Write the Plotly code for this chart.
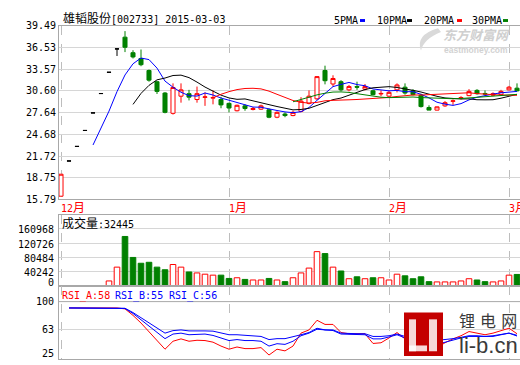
import numpy as np
import pandas as pd
import plotly.graph_objects as go

# ---------------- data ----------------
stock_name = "雄韬股份"
stock_code = "002733"
date_str = "2015-03-03"

dates = (
    ["2014-12-%02d" % d for d in [3, 4, 5, 8, 9, 10, 11, 12, 15, 16, 17, 18, 19, 22, 23, 24, 25, 26, 29, 30, 31]]
    + ["2015-01-%02d" % d for d in [5, 6, 7, 8, 9, 12, 13, 14, 15, 16, 19, 20, 21, 22, 23, 26, 27, 28, 29, 30]]
    + ["2015-02-%02d" % d for d in [2, 3, 4, 5, 6, 9, 10, 11, 12, 13, 16, 17, 25, 26, 27]]
    + ["2015-03-%02d" % d for d in [2, 3]]
)

opens = [15.79, 20.85, 22.94, 25.23, 27.75, 30.53, 33.58, 36.94, 38.62, 36.39,
         35.56, 33.84, 32.23, 30.60, 27.69, 30.15, 30.51, 29.67, 29.98, 29.87,
         29.67, 29.12, 28.06, 28.76, 28.24, 28.29, 28.20, 27.13, 27.59, 27.37,
         27.97, 29.12, 29.77, 33.84, 31.90, 32.23, 31.06, 31.53, 31.16, 30.92,
         30.47, 30.15, 31.06, 31.44, 30.92, 30.29, 28.52, 28.15, 28.76, 29.41,
         29.87, 30.23, 30.98, 30.54, 30.29, 30.37, 31.06, 31.30]
closes = [18.95, 20.85, 22.94, 25.23, 27.75, 30.53, 33.58, 36.94, 37.17, 35.78,
          34.67, 32.45, 30.84, 27.83, 31.40, 31.06, 30.01, 30.51, 30.05, 29.95,
          28.90, 28.45, 28.84, 28.38, 28.38, 28.76, 27.13, 27.83, 27.37, 27.83,
          29.45, 30.15, 32.96, 32.37, 32.69, 31.06, 31.53, 31.44, 31.53, 30.37,
          30.54, 30.70, 31.76, 30.60, 30.37, 28.66, 28.15, 28.62, 29.22, 29.48,
          29.94, 30.84, 30.51, 30.47, 30.51, 30.84, 31.44, 30.92]
highs = [18.95, 20.85, 22.94, 25.23, 27.75, 30.53, 33.58, 36.94, 39.49, 36.75,
         36.85, 33.98, 32.27, 30.74, 31.99, 31.99, 31.06, 31.53, 30.70, 30.98,
         30.05, 29.22, 28.94, 28.98, 28.59, 28.94, 28.38, 27.97, 27.83, 28.06,
         30.01, 30.98, 33.03, 34.53, 33.15, 32.45, 31.76, 32.23, 31.90, 31.06,
         30.98, 30.98, 31.99, 31.99, 31.16, 30.51, 28.84, 28.66, 29.45, 29.67,
         30.15, 31.16, 31.16, 30.98, 30.70, 31.06, 31.62, 31.99]
lows = [15.79, 20.85, 22.94, 25.23, 27.75, 30.53, 33.58, 35.92, 36.48, 35.56,
        34.45, 32.23, 30.47, 27.69, 27.51, 29.22, 29.54, 29.22, 28.76, 28.98,
        28.42, 27.83, 27.97, 28.06, 28.11, 28.18, 26.99, 26.99, 27.13, 27.27,
        27.83, 28.98, 29.63, 31.85, 31.53, 30.84, 30.84, 31.06, 30.98, 30.28,
        30.15, 29.91, 30.70, 30.37, 30.26, 28.52, 28.15, 28.11, 28.62, 28.90,
        29.67, 30.15, 30.37, 30.23, 30.15, 30.28, 30.98, 30.84]
volumes = [1100, 400, 300, 350, 450, 900, 14140, 53020, 139210, 80210,
           63900, 66620, 53020, 45680, 60360, 53020, 39430, 36710, 33170, 30450,
           30450, 21210, 23110, 18490, 16860, 16860, 21210, 16860, 12240, 23110,
           36710, 50300, 96520, 91090, 53020, 42140, 20390, 25830, 20390, 23110,
           23110, 16860, 33170, 28550, 20390, 25830, 12240, 11420, 11420, 11420,
           14140, 20390, 16860, 12240, 11420, 14140, 30450, 32445]

rsi_a = [None] + [91.7] * 7 + [90.5, 82.0, 72.0, 61.0, 49.0, 37.8, 48.2, 51.3, 48.2, 49.5,
         49.1, 47.0, 41.9, 37.8, 40.7, 38.6, 38.6, 39.9, 30.2, 37.8, 35.6, 41.9, 58.8, 63.0,
         75.6, 70.2, 70.2, 59.6, 58.0, 57.6, 58.0, 45.3, 46.2, 52.5, 59.6, 51.3, 46.2, 39.9,
         35.6, 39.9, 46.2, 51.3, 55.4, 60.9, 58.8, 56.7, 58.8, 62.1, 65.2, 58.0]
rsi_b = [None] + [91.7] * 7 + [91.0, 84.5, 76.5, 68.1, 60.1, 51.6, 57.6, 58.8, 56.7, 57.6,
         57.6, 55.8, 52.5, 49.1, 50.4, 49.1, 49.1, 48.2, 41.9, 45.0, 44.1, 48.2, 55.4, 58.8,
         63.9, 62.6, 62.2, 57.6, 57.2, 56.7, 56.7, 51.3, 51.3, 53.8, 56.7, 52.5, 50.4, 44.1,
         41.9, 44.1, 47.0, 49.5, 52.5, 54.5, 54.5, 53.8, 54.5, 56.7, 58.8, 55.0]
rsi_c = [None] + [91.7] * 7 + [91.3, 85.7, 79.0, 72.2, 65.5, 58.8, 62.1, 63.0, 61.7, 62.1,
         61.7, 61.4, 58.8, 56.7, 56.7, 56.3, 55.8, 54.5, 50.4, 51.6, 51.6, 53.8, 56.7, 59.6,
         65.2, 63.0, 63.0, 58.8, 58.0, 58.0, 58.0, 54.5, 54.5, 55.4, 57.6, 54.5, 53.8, 50.4,
         48.2, 49.1, 50.4, 51.6, 53.3, 55.4, 55.4, 54.5, 55.4, 57.6, 58.8, 56.0]

price_labels = ["15.79", "18.75", "21.72", "24.68", "27.64", "30.60", "33.57", "36.53", "39.49"]
vol_ticks = [0, 40242, 80484, 120726, 160968]
rsi_ticks = [25, 63, 100]
month_ticks = ["2014-12-03", "2015-01-05", "2015-02-02", "2015-03-02"]
month_labels = ["12", "1", "2", "3"]
ma_windows = [5, 10, 20, 30]
ma_names = ["5PMA", "10PMA", "20PMA", "30PMA"]
vol_title = "成交量"
rsi_names = ["RSI_A", "RSI_B", "RSI_C"]
rsi_last = [58, 55, 56]

# ---------------- styles ----------------
RED = "#ff0000"
GREEN = "#008000"
BLUE = "#0000ff"
BLACK = "#000000"
ma_colors = [BLUE, BLACK, RED, GREEN]
rsi_colors = [RED, BLUE, BLUE]
BORDER = "#a8a8a8"
GRID = "#d6d6d6"
VGRID = "#bdbdbd"
MONO = "DejaVu Sans Mono, Noto Sans CJK SC"
CJK = "Noto Sans CJK SC"

W, H = 520, 365
L = 59


def px(x):
    return (x - L) / (W - L)


def py(y):
    return 1 - y / H


fig = go.Figure()

# ---- candles ----
flat_idx = [i for i in range(len(dates)) if opens[i] == closes[i]]
norm_idx = [i for i in range(len(dates)) if opens[i] != closes[i]]


def pick(arr, idx):
    return [arr[i] for i in idx]


fig.add_trace(go.Candlestick(
    x=pick(dates, norm_idx), open=pick(opens, norm_idx), high=pick(highs, norm_idx),
    low=pick(lows, norm_idx), close=pick(closes, norm_idx),
    increasing=dict(line=dict(color=RED, width=1), fillcolor="white"),
    decreasing=dict(line=dict(color=GREEN, width=1), fillcolor=GREEN),
    whiskerwidth=0, xaxis="x", yaxis="y", hoverinfo="skip"))
fig.add_trace(go.Candlestick(
    x=pick(dates, flat_idx), open=pick(opens, flat_idx), high=pick(highs, flat_idx),
    low=pick(lows, flat_idx), close=pick(closes, flat_idx),
    increasing=dict(line=dict(color=BLACK, width=1), fillcolor=BLACK),
    decreasing=dict(line=dict(color=BLACK, width=1), fillcolor=BLACK),
    whiskerwidth=0, xaxis="x", yaxis="y", hoverinfo="skip"))

# ---- moving averages ----
cs = pd.Series(closes)
for w, name, col in zip(ma_windows, ma_names, ma_colors):
    ma = cs.rolling(w).mean()
    yv = [None if np.isnan(v) else float(v) for v in ma]
    fig.add_trace(go.Scatter(x=dates, y=yv, mode="lines", name=name,
                             line=dict(color=col, width=1), xaxis="x", yaxis="y",
                             hoverinfo="skip"))

# ---- volume ----
up = [c >= o for o, c in zip(opens, closes)]
fig.add_trace(go.Bar(
    x=dates, y=volumes, width=0.7,
    marker=dict(color=["white" if u else GREEN for u in up],
                line=dict(color=[RED if u else GREEN for u in up], width=1)),
    xaxis="x2", yaxis="y2", hoverinfo="skip"))

# ---- RSI ----
for vals, col, name in zip([rsi_a, rsi_b, rsi_c], rsi_colors, rsi_names):
    fig.add_trace(go.Scatter(x=dates, y=vals, mode="lines", name=name,
                             line=dict(color=col, width=1), xaxis="x3", yaxis="y3",
                             hoverinfo="skip"))

# ---------------- axes ----------------
n = len(dates)
xr = [-0.25, n - 1 + 0.375]
xcommon = dict(type="category", categoryorder="array", categoryarray=dates, range=xr,
               tickvals=month_ticks, showgrid=True, griddash="dash", gridcolor=VGRID,
               gridwidth=1, showticklabels=False, ticks="", showline=True, mirror=True,
               linecolor=BORDER, linewidth=1, zeroline=False, fixedrange=True)

p_lo = min(lows) - 0.46
p_hi = max(highs) + 0.76
price_tickvals = list(np.linspace(p_lo, p_hi, len(price_labels)))

fig.update_layout(
    width=W, height=H,
    margin=dict(l=L, r=0, t=0, b=0, pad=0),
    paper_bgcolor="white", plot_bgcolor="white",
    showlegend=False, boxgap=0.28,
    xaxis=dict(xcommon, anchor="y", domain=[0, 1], rangeslider=dict(visible=False)),
    xaxis2=dict(xcommon, anchor="y2", domain=[0, 1], matches="x"),
    xaxis3=dict(xcommon, anchor="y3", domain=[0, 1], matches="x"),
    yaxis=dict(domain=[py(200), py(20.5)], range=[p_lo, p_hi], tickvals=price_tickvals,
               ticktext=price_labels, tickfont=dict(family=MONO, size=10, color="black"),
               showgrid=True, gridcolor=GRID, showline=True, linecolor=BORDER,
               zeroline=False, ticks="", fixedrange=True),
    yaxis2=dict(domain=[py(290), py(216)], range=[-1360, 199850], tickvals=vol_ticks[1:],
                showticklabels=False, showgrid=True, gridcolor=GRID, showline=True,
                linecolor=BORDER, zeroline=False, ticks="", fixedrange=True),
    yaxis3=dict(domain=[0, py(290)], range=[25, 119.8], tickvals=[rsi_ticks[1]],
                showticklabels=False, showgrid=True, gridcolor=GRID, showline=True,
                linecolor=BORDER, zeroline=False, ticks="", fixedrange=True),
)

# ---------------- texts ----------------
ann = []


def txt(x, y, text, color="black", size=10, family=MONO, xanchor="left", **kw):
    d = dict(x=x, y=y, xref="paper", yref="paper", text=text, showarrow=False,
             xanchor=xanchor, yanchor="middle", font=dict(family=family, size=size, color=color))
    d.update(kw)
    ann.append(d)


def cjk(s, size=12):
    return '<span style="font-size:%dpx">%s</span>' % (size, s)


txt(px(61), py(13), cjk(stock_name) + "[%s] %s" % (stock_code, date_str))

legend_x = [332, 375, 422, 470]
dash_x = [360, 407, 457, 503]
shapes = []
for nm, col, lx, dx in zip(ma_names, ma_colors, legend_x, dash_x):
    txt(px(lx), py(15), nm)
    shapes.append(dict(type="rect", xref="paper", yref="paper", x0=px(dx), x1=px(dx + 5),
                       y0=py(16.5), y1=py(13.5), fillcolor=col, line=dict(width=0)))

# month labels
for mt, ml in zip(month_ticks, month_labels):
    ann.append(dict(x=mt, y=py(208.5), xref="x", yref="paper", text=ml + cjk("月"),
                    showarrow=False, xanchor="left", yanchor="middle", xshift=-2,
                    font=dict(family=MONO, size=10, color=RED)))

# volume header and ticks
txt(px(60), py(225), cjk(vol_title) + ":%d" % volumes[-1])
for v in vol_ticks:
    ann.append(dict(x=0, y=v, xref="paper", yref="y2", text=str(v), showarrow=False,
                    xanchor="right", yanchor="middle", xshift=-3,
                    yshift=(3 if v == 0 else -1),
                    font=dict(family=MONO, size=10, color="black")))

# RSI header and ticks
rsi_hx = [60, 113, 167]
for nm, val, col, hx in zip(rsi_names, rsi_last, rsi_colors, rsi_hx):
    txt(px(hx), py(299.5), "%s:%d" % (nm, val), color=col)
for v in rsi_ticks:
    ann.append(dict(x=0, y=v, xref="paper", yref="y3", text=str(v), showarrow=False,
                    xanchor="right", yanchor="middle", xshift=-3,
                    yshift=(5 if v == 25 else 0),
                    font=dict(family=MONO, size=10, color="black")))
shapes.append(dict(type="line", xref="paper", yref="y3", x0=0, x1=1, y0=100, y1=100,
                   line=dict(color=BORDER, width=1)))

# eastmoney watermark
shapes.append(dict(type="path", xref="paper", yref="paper",
                   path="M %f %f Q %f %f %f %f Q %f %f %f %f Z" % (
                       px(438), py(23), px(415), py(30), px(421), py(46),
                       px(424), py(34), px(441), py(27)),
                   fillcolor="#d9d9d9", line=dict(width=0)))
txt(px(442), py(29.5), "<b><i>东方财富网</i></b>", color="#cfcfcf", size=13, family=CJK,
    borderpad=0)
txt(px(443), py(45), "<b>eastmoney.com</b>", color="#d2d2d2", size=8.5,
    family="Liberation Sans", borderpad=0)

# li-b.cn logo
shapes.append(dict(type="rect", xref="paper", yref="paper", x0=px(404), x1=px(443),
                   y0=py(362), y1=py(317), fillcolor="#c40000", line=dict(width=0),
                   layer="above"))
for (x0, y0, x1, y1) in [(409, 324, 416, 357), (409, 351, 427, 357), (429, 324, 437, 357)]:
    shapes.append(dict(type="rect", xref="paper", yref="paper", x0=px(x0), x1=px(x1),
                       y0=py(y1), y1=py(y0), fillcolor="white", line=dict(width=0),
                       opacity=0.85, layer="above"))
txt(px(488), py(326), "锂 电 网", color="#3a3a3a", size=16,
    family="DejaVu Sans, Noto Sans CJK SC", xanchor="center", borderpad=0)
txt(px(488), py(351.5), "li-b.cn", color="#3a3a3a", size=22,
    family="Liberation Sans Narrow, Liberation Sans", xanchor="center", borderpad=0)

fig.update_layout(annotations=ann, shapes=shapes)

fig.write_html("out.html", config={"displayModeBar": False},
               post_script="document.body.style.margin='0';document.body.style.overflow='hidden';")
